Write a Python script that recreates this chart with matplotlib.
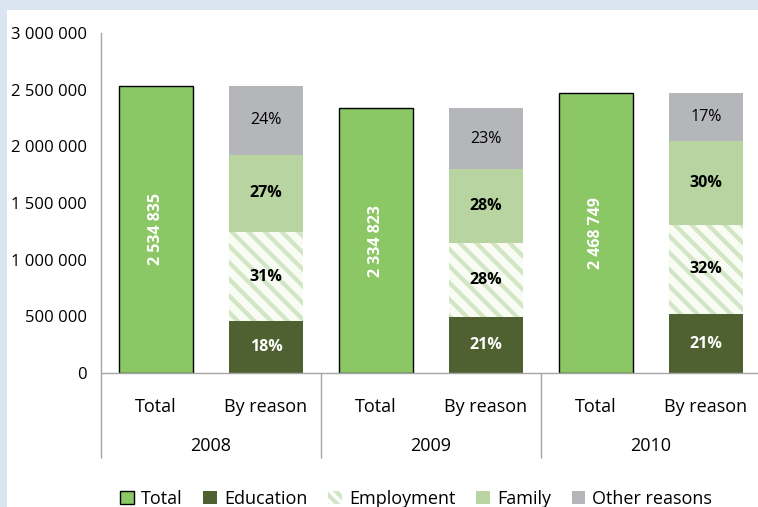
import numpy as np
import matplotlib
matplotlib.use("Agg")
import matplotlib.pyplot as plt
from matplotlib.patches import Rectangle, Patch
from matplotlib.ticker import FuncFormatter

# data
years = ["2008", "2009", "2010"]
totals = [2534835, 2334823, 2468749]
reasons = ["Education", "Employment", "Family", "Other reasons"]
education_pct = [18, 21, 21]
employment_pct = [31, 28, 32]
family_pct = [27, 28, 30]
other_pct = [24, 23, 17]
sub_labels = ["Total", "By reason"]

plt.rcParams['font.family'] = ['Open Sans', 'DejaVu Sans']
plt.rcParams['hatch.linewidth'] = 3.0

c_total = "#8cc765"
c_edu = "#4f6130"
c_emp_bg = "#f8fcf3"
c_emp_hatch = "#d2e5c4"
c_fam = "#b8d4a0"
c_other = "#b5b6ba"
c_axis = "#a6a6a6"

fig = plt.figure(figsize=(7.58, 5.07), dpi=100, facecolor="#dbe5f1")
bg = Rectangle((7 / 758, 0), 1, 1 - 10 / 507, transform=fig.transFigure,
               facecolor="white", edgecolor="none", zorder=-10)
fig.add_artist(bg)

ax = fig.add_axes([101 / 758, 1 - 373 / 507, 660 / 758, 340 / 507])
ax.set_facecolor("none")

w = 0.68
x_tot = np.arange(len(years)) * 2
x_rsn = x_tot + 1

ax.bar(x_tot, totals, width=w, color=c_total, edgecolor="black", linewidth=1.0)
for xt, t in zip(x_tot, totals):
    ax.text(xt, t / 2, f"{t:,}".replace(",", " "), rotation=90, ha="center", va="center",
            color="white", fontsize=11.5, fontweight="bold")

pcts = [education_pct, employment_pct, family_pct, other_pct]
seg_colors = [c_edu, c_emp_bg, c_fam, c_other]
bottom = np.zeros(len(years))
for i, p in enumerate(pcts):
    vals = np.array(totals) * np.array(p) / 100
    if i == 1:
        ax.bar(x_rsn, vals, width=w, bottom=bottom, color=c_emp_bg, edgecolor=c_emp_hatch,
               linewidth=0, hatch="\\\\")
    else:
        ax.bar(x_rsn, vals, width=w, bottom=bottom, color=seg_colors[i], linewidth=0)
    for xr, b, v, pc in zip(x_rsn, bottom, vals, p):
        ax.text(xr, b + v / 2, f"{pc}%", ha="center", va="center", fontsize=11.5,
                color="white" if i == 0 else "black",
                fontweight="normal" if i == 3 else "bold")
    bottom = bottom + vals

ax.set_ylim(0, 3000000)
ax.set_xlim(-0.5, 5.5)
ax.set_yticks(np.arange(0, 3000001, 500000))
ax.yaxis.set_major_formatter(FuncFormatter(lambda v, _: f"{int(v):,}".replace(",", " ")))
ax.tick_params(axis="y", length=0, pad=10, labelsize=12)

ax.set_xticks(np.arange(6))
ax.set_xticklabels(sub_labels * 3)
ax.tick_params(axis="x", which="major", length=0, pad=18, labelsize=13)
ax.set_xticks([-0.5, 1.5, 3.5, 5.5], minor=True)
ax.tick_params(axis="x", which="minor", length=61, width=1, color=c_axis, direction="out")

for k, yr in enumerate(years):
    ax.text(2 * k + 0.5, -0.215, yr, transform=ax.get_xaxis_transform(), ha="center",
            va="center", fontsize=13)

for s in ["top", "right"]:
    ax.spines[s].set_visible(False)
for s in ["left", "bottom"]:
    ax.spines[s].set_color(c_axis)
    ax.spines[s].set_linewidth(1)

handles = [
    Patch(facecolor=c_total, edgecolor="black", linewidth=1, label="Total"),
    Patch(facecolor=c_edu, label="Education"),
    Patch(facecolor="white", edgecolor=c_emp_hatch, linewidth=0, hatch="\\\\\\", label="Employment"),
    Patch(facecolor=c_fam, label="Family"),
    Patch(facecolor=c_other, label="Other reasons"),
]
fig.legend(handles=handles, loc="center", bbox_to_anchor=(0.549, 0.016), ncol=5,
           frameon=False, fontsize=13, handlelength=0.75, handleheight=0.75,
           handletextpad=0.4, columnspacing=1.15)

fig.savefig("out.png", dpi=100, facecolor=fig.get_facecolor())
